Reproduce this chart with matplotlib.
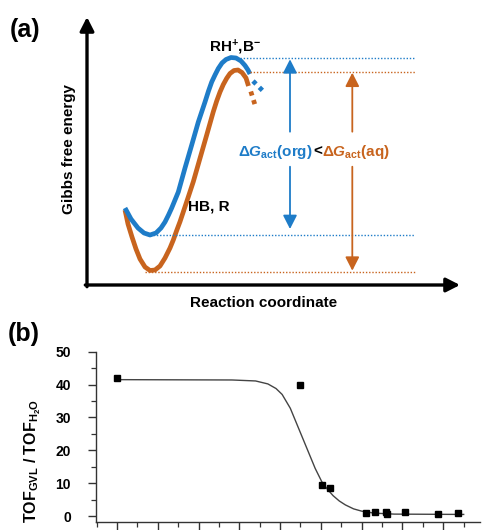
import numpy as np
import matplotlib
matplotlib.use("Agg")
import matplotlib.pyplot as plt
from matplotlib.ticker import MultipleLocator, NullFormatter

plt.rcParams['font.family'] = ['Liberation Sans', 'DejaVu Sans']
plt.rcParams['font.weight'] = 'bold'
plt.rcParams['mathtext.fontset'] = 'custom'
plt.rcParams['mathtext.rm'] = 'Liberation Sans:bold'
plt.rcParams['mathtext.it'] = 'Liberation Sans:bold:italic'
plt.rcParams['mathtext.bf'] = 'Liberation Sans:bold'

blueCol = '#1e7cc8'
orangeCol = '#c8641e'

# panel (a): schematic energy profiles (arbitrary units)
orgX = [38, 44, 51, 57, 63, 69, 74, 78, 81.5, 84.7, 88, 91.3, 98, 104.7, 111.3, 118,
        121.5, 124.7, 128, 131.3, 135, 139, 144, 149, 154, 158, 161, 163]
orgG = [77, 66, 57, 52, 50, 52, 57, 63, 70, 77, 85, 93, 117, 140, 163, 183,
        194, 203, 210, 216.5, 222, 225.5, 227.5, 227, 224, 219.5, 215, 211]
orgTailX = [166, 175.5]
orgTailG = [204, 194.5]

aqX = [38, 41, 45, 49, 53, 58, 63, 68, 73, 78, 83, 86.3, 89.5, 93, 99.7, 106.3, 113,
       119.7, 126.3, 129.7, 133, 136.3, 139.7, 143, 147, 151, 155, 159, 161.5]
aqG = [75, 61, 48, 36, 26, 18, 14.5, 15, 19, 27, 37, 45, 54, 63.3, 83.3, 103.3, 126.7,
       150, 173.3, 184, 193, 200.5, 206.7, 211.5, 214.5, 215, 212.5, 207, 199]
aqTailX = [163.8, 168.2]
aqTailG = [193.5, 179.5]

orgTS, orgGS = 226.7, 50.0
aqTS, aqGS = 213.3, 13.3
levelEnd = 328

# panel (b)
ratioX = [0.0, 4.49, 5.02, 5.23, 6.10, 6.32, 6.59, 6.62, 7.07, 7.87, 8.37]
ratioY = [42.0, 39.8, 9.6, 8.6, 1.0, 1.1, 1.2, 0.6, 1.1, 0.6, 0.8]
fitX = [0.0, 2.82, 3.4, 3.7, 3.9, 4.05, 4.25, 4.45, 4.66, 4.86, 5.02, 5.15, 5.3,
        5.45, 5.6, 5.8, 6.0, 6.3, 6.8, 8.5]
fitY = [41.5, 41.4, 41.1, 40.2, 38.8, 37.0, 32.8, 26.8, 20.5, 14.5, 10.5, 8.3, 6.2,
        4.6, 3.4, 2.2, 1.5, 0.9, 0.6, 0.5]

W, H = 482, 530
fig = plt.figure(figsize=(W/100, H/100), dpi=100)

axA = fig.add_axes([87/W, (H-285)/H, 373/W, 268/H])
axA.set_xlim(0, 373)
axA.set_ylim(0, 268)
axA.axis('off')

axisArrow = dict(arrowstyle='-|>,head_length=0.55,head_width=0.28', lw=2.4, color='k',
                 mutation_scale=15, shrinkA=0, shrinkB=0)
axA.annotate('', xy=(373, 0), xytext=(-1.7, 0), arrowprops=axisArrow, annotation_clip=False)
axA.annotate('', xy=(0, 268), xytext=(0, -1.7), arrowprops=axisArrow, annotation_clip=False)

axA.plot(aqX, aqG, color=orangeCol, lw=3.4, solid_capstyle='butt')
axA.plot(aqTailX, aqTailG, color=orangeCol, lw=3.4, ls=(0, (0.9, 1.0)), dash_capstyle='butt')
axA.plot(orgX, orgG, color=blueCol, lw=3.4, solid_capstyle='butt')
axA.plot(orgTailX, orgTailG, color=blueCol, lw=3.4, ls=(0, (0.9, 1.0)), dash_capstyle='butt')

dotStyle = dict(lw=1.0, ls=(0, (1, 1.3)))
axA.plot([153, levelEnd], [orgTS, orgTS], color=blueCol, **dotStyle)
axA.plot([63, levelEnd], [orgGS, orgGS], color=blueCol, **dotStyle)
axA.plot([163, levelEnd], [aqTS, aqTS], color=orangeCol, **dotStyle)
axA.plot([58, levelEnd], [aqGS, aqGS], color=orangeCol, **dotStyle)

def gapArrow(x, top, bottom, col):
    st = dict(arrowstyle='-|>,head_length=0.55,head_width=0.28', lw=1.3, color=col,
              mutation_scale=15, shrinkA=0, shrinkB=0)
    axA.annotate('', xy=(x, top - 1), xytext=(x, 153.3), arrowprops=st)
    axA.annotate('', xy=(x, bottom + 1), xytext=(x, 118.3), arrowprops=st)

gapArrow(203, orgTS, orgGS + 5, blueCol)
gapArrow(265.3, aqTS, aqGS, orangeCol)

axA.text(226, 129, r'$\Delta G_{\mathrm{act}}$(org)', color=blueCol, fontsize=11,
         ha='right', va='baseline')
axA.text(230.5, 129, '<', color='k', fontsize=11, ha='center', va='baseline')
axA.text(235, 129, r'$\Delta G_{\mathrm{act}}$(aq)', color=orangeCol, fontsize=11,
         ha='left', va='baseline')
axA.text(148, 233.3, r'RH$^{+}$,B$^{-}$', fontsize=11, ha='center', va='baseline')
axA.text(101, 74.3, 'HB, R', fontsize=11, ha='left', va='baseline')
axA.text(176.5, -22.3, 'Reaction coordinate', fontsize=11, ha='center', va='baseline')
axA.text(-18.5, 136, 'Gibbs free energy', fontsize=11, rotation=90, ha='center', va='center')

fig.text(10/W, 1 - 37/H, '(a)', fontsize=18, ha='left', va='baseline')
fig.text(8/W, 1 - 340.7/H, '(b)', fontsize=18, ha='left', va='baseline')

# panel (b)
axB = fig.add_axes([95.7/W, 8/H, 384.3/W, 170.3/H])
axB.plot(fitX, fitY, color='#444444', lw=1.0)
axB.plot(ratioX, ratioY, 's', color='k', ms=4)
axB.set_xlim(-0.52, 8.9)
axB.set_ylim(-1.8, 50)
for s in ['top', 'right']:
    axB.spines[s].set_visible(False)
for s in ['left', 'bottom']:
    axB.spines[s].set_color('#333333')
    axB.spines[s].set_linewidth(1.0)
axB.yaxis.set_major_locator(MultipleLocator(10))
axB.yaxis.set_minor_locator(MultipleLocator(5))
axB.xaxis.set_major_locator(MultipleLocator(1))
axB.xaxis.set_minor_locator(MultipleLocator(0.5))
axB.xaxis.set_major_formatter(NullFormatter())
axB.tick_params(which='major', direction='out', length=5.8, width=1.0, color='#333333')
axB.tick_params(which='minor', direction='out', length=3.8, width=0.9, color='#333333')
axB.tick_params(axis='y', labelsize=10, pad=12)
for lab in axB.get_yticklabels():
    lab.set_fontweight('bold')

fig.text(33/W, 1 - 461/H, r'TOF$_{\mathrm{GVL}}$ / TOF$_{\mathrm{H_2O}}$', fontsize=11.5,
         rotation=90, ha='center', va='center')

fig.savefig('out.png', dpi=100)
